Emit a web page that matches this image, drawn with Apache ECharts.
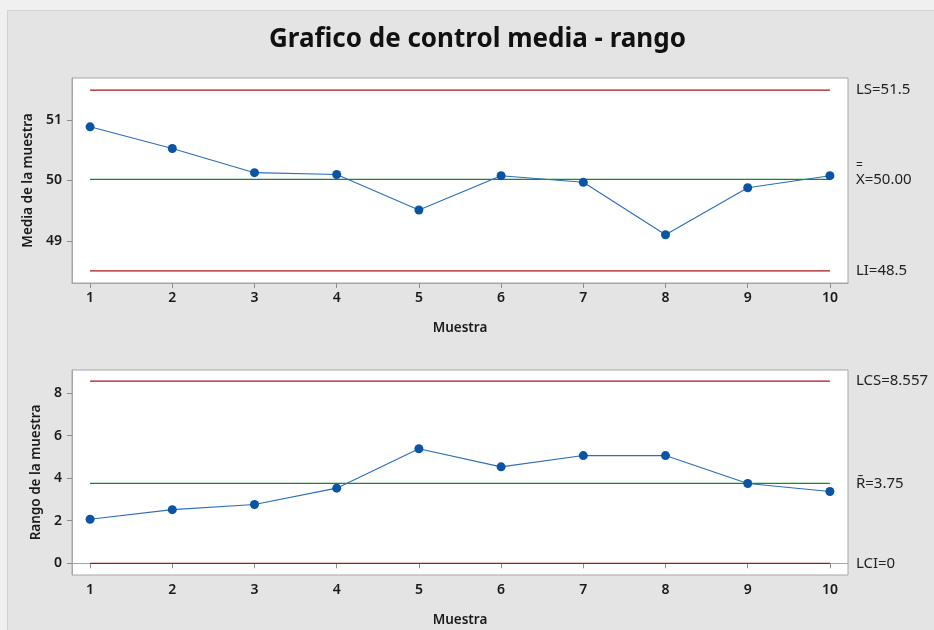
<!DOCTYPE html>
<html>
<head>
<meta charset="utf-8">
<script src="https://cdn.jsdelivr.net/npm/echarts@6/dist/echarts.min.js"></script>
<style>
  html, body { margin: 0; padding: 0; background: #f0f0f0; }
  #chart { position: absolute; left: 7px; top: 10px; width: 927px; height: 620px;
           border-left: 1px solid #d2d2d2; border-top: 1px solid #d2d2d2; box-sizing: border-box; }
</style>
</head>
<body>
<div id="chart"></div>
<script>
// ---- Data ----
const samples = [1, 2, 3, 4, 5, 6, 7, 8, 9, 10];
const sampleMeans = [50.89, 50.53, 50.13, 50.10, 49.51, 50.08, 49.97, 49.10, 49.88, 50.08];
const sampleRanges = [2.07, 2.52, 2.76, 3.53, 5.38, 4.53, 5.06, 5.06, 3.75, 3.37];
const meanLimits = [51.5, 50.02, 48.5];          // LS, center, LI
const meanLimitLabels = ['LS=51.5', 'X=50.00', 'LI=48.5'];
const rangeLimits = [8.557, 3.75, 0];            // LCS, center, LCI
const rangeLimitLabels = ['LCS=8.557', 'R\u0304=3.75', 'LCI=0'];
const meanTicks = [49, 50, 51];
const rangeTicks = [0, 2, 4, 6, 8];

const FONT = '"Noto Sans", "Open Sans", sans-serif';
const RED = '#a8141a', GREEN = '#0f8f1a', BLUE = '#2a6ebb', DOT = '#0a54a3';

const chart = echarts.init(document.getElementById('chart'));

function limitSeries(values, labels, gridIdx, centerHasDoubleBar) {
  return values.map((v, i) => {
    const isCenter = i === 1;
    let fmt = labels[i];
    let rich = {};
    if (isCenter && centerHasDoubleBar) {
      fmt = '{bar|=}\n{t|' + labels[i] + '}';
      rich = {
        bar: { fontSize: 12, lineHeight: 9, fontFamily: FONT, color: '#222' },
        t: { fontSize: 15, lineHeight: 18, fontFamily: FONT, color: '#222' }
      };
    }
    return {
      type: 'line',
      xAxisIndex: gridIdx, yAxisIndex: gridIdx,
      data: [[samples[0], v], [samples[samples.length - 1], v]],
      symbol: 'none',
      silent: true,
      z: 1,
      lineStyle: { color: isCenter ? GREEN : RED, width: 1.2 },
      endLabel: {
        show: true,
        distance: 26,
        formatter: () => fmt,
        rich: rich,
        padding: (isCenter && centerHasDoubleBar) ? [0, 0, 9, 0] : 0,
        fontSize: 15,
        fontFamily: FONT,
        color: '#222'
      }
    };
  });
}

function dataSeries(values, gridIdx) {
  return {
    type: 'line',
    xAxisIndex: gridIdx, yAxisIndex: gridIdx,
    data: samples.map((s, i) => [s, values[i]]),
    symbol: 'circle',
    symbolSize: 9,
    z: 3,
    itemStyle: { color: DOT },
    lineStyle: { color: BLUE, width: 1.1 }
  };
}

function xAxisDef(gridIdx) {
  return {
    type: 'value', gridIndex: gridIdx,
    min: 0.78, max: 10.22,
    name: 'Muestra', nameLocation: 'middle', nameGap: 38,
    nameTextStyle: { fontFamily: FONT, fontSize: 13.5, fontWeight: 600, color: '#1a1a1a' },
    axisLine: { show: true, lineStyle: { color: '#a6a6a6' } },
    axisTick: { show: true, length: 5, customValues: samples, lineStyle: { color: '#8c8c8c' } },
    axisLabel: { customValues: samples, margin: 8, fontFamily: FONT, fontSize: 14, fontWeight: 600, color: '#1a1a1a' },
    splitLine: { show: false }
  };
}

function yAxisDef(gridIdx, min, max, ticks, name, gap) {
  return {
    type: 'value', gridIndex: gridIdx,
    min: min, max: max,
    name: name, nameLocation: 'middle', nameGap: gap,
    nameTextStyle: { fontFamily: FONT, fontSize: 13.5, fontWeight: 600, color: '#1a1a1a' },
    axisLine: { show: true, lineStyle: { color: '#a6a6a6' } },
    axisTick: { show: true, length: 5, customValues: ticks, lineStyle: { color: '#8c8c8c' } },
    axisLabel: { customValues: ticks, margin: 10, fontFamily: FONT, fontSize: 14, fontWeight: 600, color: '#1a1a1a' },
    splitLine: { show: false }
  };
}

const option = {
  animation: false,
  backgroundColor: '#e4e4e4',
  title: {
    text: 'Grafico de control media - rango',
    left: 256, top: 11,
    textStyle: { fontFamily: FONT, fontSize: 26, fontWeight: 700, color: '#111' }
  },
  grid: [
    { left: 64, top: 67, width: 776, height: 205, show: true, backgroundColor: '#ffffff', borderColor: '#a6a6a6', borderWidth: 1 },
    { left: 64, top: 359, width: 776, height: 205, show: true, backgroundColor: '#ffffff', borderColor: '#a6a6a6', borderWidth: 1 }
  ],
  xAxis: [xAxisDef(0), xAxisDef(1)],
  yAxis: [
    yAxisDef(0, 48.3, 51.7, meanTicks, 'Media de la muestra', 35),
    yAxisDef(1, -0.55, 9.08, rangeTicks, 'Rango de la muestra', 27)
  ],
  series: [
    ...limitSeries(meanLimits, meanLimitLabels, 0, true),
    dataSeries(sampleMeans, 0),
    ...limitSeries(rangeLimits, rangeLimitLabels, 1, false),
    dataSeries(sampleRanges, 1)
  ]
};
chart.setOption(option);
</script>
</body>
</html>
